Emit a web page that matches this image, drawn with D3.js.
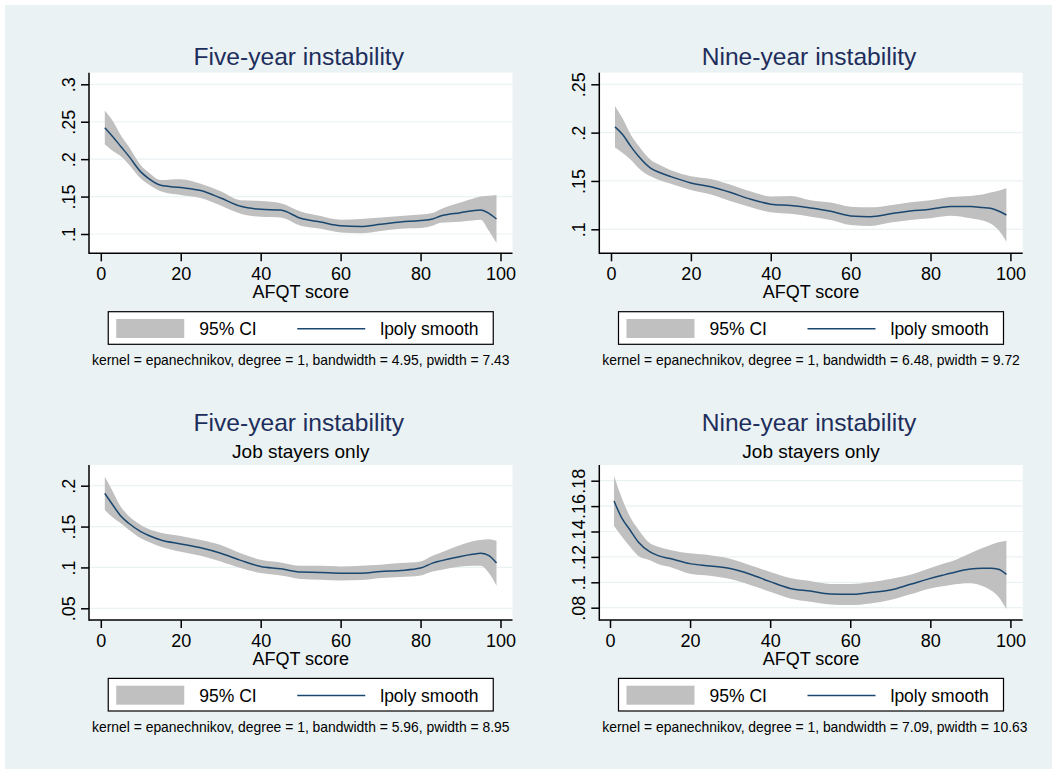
<!DOCTYPE html>
<html>
<head>
<meta charset="utf-8">
<script src="https://cdn.jsdelivr.net/npm/d3@7"></script>
<style>
  body { margin: 0; background: #ffffff; }
  svg text { font-family: "Liberation Sans", Arial, Helvetica, sans-serif; }
</style>
</head>
<body>
<div id="chart"></div>
<script>
var afqt = [1, 3, 5, 7, 10, 12, 15, 20, 25, 30, 35, 40, 45, 50, 55, 60, 65, 70, 75, 80, 83, 85, 90, 93, 95, 97, 99];

// Five-year instability
var fiveFit = [.242, .230, .217, .204, .183, .174, .165, .162, .158, .148, .137, .133, .132, .121, .116, .111, .110, .113, .116, .118, .120, .124, .1285, .131, .132, .128, .120];
var fiveLo  = [.220, .211, .204, .193, .174, .166, .157, .152, .148, .138, .127, .123, .122, .111, .107, .102, .101, .104, .107, .108, .111, .115, .1165, .118, .119, .105, .088];
var fiveHi  = [.265, .251, .232, .217, .192, .182, .172, .173, .167, .157, .145, .144, .141, .130, .124, .119, .120, .122, .124, .126, .128, .133, .142, .147, .150, .151, .152];

// Nine-year instability
var nineFit = [.206, .1976, .1855, .175, .163, .159, .1545, .148, .144, .138, .131, .126, .1245, .122, .1186, .1138, .113, .116, .119, .1207, .1228, .1235, .1235, .1225, .1217, .119, .1148];
var nineLo  = [.1845, .1786, .1717, .163, .1545, .151, .147, .1407, .136, .129, .1228, .1176, .116, .113, .1097, .1045, .1034, .107, .1097, .1114, .1132, .114, .1114, .109, .106, .0993, .0872];
var nineHi  = [.2276, .214, .1976, .186, .1717, .167, .161, .155, .152, .146, .139, .134, .1345, .130, .1276, .1234, .1228, .125, .128, .130, .1322, .1335, .1345, .136, .138, .140, .1424];

// Five-year instability, job stayers only
var stayFiveFit = [.1906, .1764, .163, .154, .1438, .139, .1336, .1287, .124, .1173, .1086, .1012, .0984, .0943, .0939, .093, .093, .095, .0963, .0992, .1053, .108, .1134, .116, .1173, .1147, .1053];
var stayFiveLo  = [.1703, .161, .154, .146, .1356, .131, .1254, .1193, .1143, .1073, .0992, .0931, .0902, .086, .085, .0841, .0845, .087, .0882, .0902, .095, .097, .1012, .102, .102, .0939, .0776];
var stayFiveHi  = [.211, .193, .1743, .163, .152, .147, .1425, .1385, .1336, .1275, .1173, .1094, .1061, .102, .102, .1012, .102, .1033, .1053, .1073, .1143, .118, .1275, .132, .1336, .1344, .1326];

// Nine-year instability, job stayers only
var stayNineFit = [.164, .1503, .1412, .132, .1239, .121, .1187, .1147, .1129, .1108, .1064, .1005, .0952, .0931, .0908, .0905, .092, .0939, .0984, .1031, .1055, .1071, .1105, .111, .111, .1102, .1063];
var stayNineLo  = [.1443, .1358, .1279, .121, .1174, .1145, .1121, .1068, .1052, .1026, .0979, .0926, .0873, .0847, .0826, .0821, .0834, .086, .0905, .0952, .0968, .0979, .0992, .097, .0939, .0887, .079];
var stayNineHi  = [.1837, .166, .1517, .142, .1307, .128, .1254, .1228, .1213, .1186, .1134, .1081, .1034, .101, .0987, .0987, .100, .1026, .106, .1113, .1145, .1161, .1228, .127, .1294, .1315, .1328];

// Tick labels
var xTicks = [0, 20, 40, 60, 80, 100];
var fiveTicks = [.1, .15, .2, .25, .3];
var nineTicks = [.1, .15, .2, .25];
var stayFiveTicks = [.05, .1, .15, .2];
var stayNineTicks = [.08, .1, .12, .14, .16, .18];

var titles = ['Five-year instability', 'Nine-year instability', 'Five-year instability', 'Nine-year instability'];
var subtitles = ['', '', 'Job stayers only', 'Job stayers only'];
var notes = [
    'kernel = epanechnikov, degree = 1, bandwidth = 4.95, pwidth = 7.43',
    'kernel = epanechnikov, degree = 1, bandwidth = 6.48, pwidth = 9.72',
    'kernel = epanechnikov, degree = 1, bandwidth = 5.96, pwidth = 8.95',
    'kernel = epanechnikov, degree = 1, bandwidth = 7.09, pwidth = 10.63'
];
var axisTitle = 'AFQT score';
var legendLabels = ['95% CI', 'lpoly smooth'];

var W = 1052, H = 769;
var bg = '#eaf2f3';
var navy = '#1a476f';
var band = '#c0c0c0';
var titleColor = '#1e2e5c';

// plot regions (pixel layout); y ticks are pinned at two pixel rows
var panels = [
    { fit: fiveFit, lo: fiveLo, hi: fiveHi, ticks: fiveTicks,
      L: 89, R: 512.5, T: 72.7, B: 253.3, x0: 100.8, x1: 500.5, yv: [.1, .3], yp: [234, 84.3] },
    { fit: nineFit, lo: nineLo, hi: nineHi, ticks: nineTicks,
      L: 599.3, R: 1022.7, T: 72.7, B: 253.3, x0: 611, x1: 1010.4, yv: [.1, .25], yp: [229.3, 84.3] },
    { fit: stayFiveFit, lo: stayFiveLo, hi: stayFiveHi, ticks: stayFiveTicks,
      L: 89, R: 512.5, T: 465, B: 620, x0: 100.8, x1: 500.5, yv: [.05, .2], yp: [608.3, 485.7] },
    { fit: stayNineFit, lo: stayNineLo, hi: stayNineHi, ticks: stayNineTicks,
      L: 599.3, R: 1022.7, T: 465, B: 620, x0: 610, x1: 1010.4, yv: [.08, .18], yp: [607.7, 480.7] }
];

var svg = d3.select('#chart').append('svg')
    .attr('width', W)
    .attr('height', H);

svg.append('rect')
    .attr('x', 5).attr('y', 5)
    .attr('width', W - 5).attr('height', H - 5)
    .attr('fill', bg);

function fmt(v) {
    return String(v).replace(/^0\./, '.');
}

panels.forEach(function (p, i) {
    var x = d3.scaleLinear().domain([0, 100]).range([p.x0, p.x1]);
    var y = d3.scaleLinear().domain(p.yv).range(p.yp);
    var cx = (p.L + p.R) / 2;
    var g = svg.append('g');

    // plot region
    g.append('rect')
        .attr('x', p.L).attr('y', p.T)
        .attr('width', p.R - p.L).attr('height', p.B - p.T)
        .attr('fill', '#ffffff');

    // grid lines
    g.selectAll('.grid')
        .data(p.ticks)
        .enter()
        .append('line')
        .attr('x1', p.L).attr('x2', p.R)
        .attr('y1', function (d) { return y(d); })
        .attr('y2', function (d) { return y(d); })
        .attr('stroke', bg)
        .attr('stroke-width', 1.2);

    var rows = afqt.map(function (a, k) {
        return { a: a, fit: p.fit[k], lo: p.lo[k], hi: p.hi[k] };
    });

    // confidence band
    g.append('path')
        .datum(rows)
        .attr('fill', band)
        .attr('d', d3.area()
            .curve(d3.curveMonotoneX)
            .x(function (d) { return x(d.a); })
            .y0(function (d) { return y(d.lo); })
            .y1(function (d) { return y(d.hi); }));

    // smooth
    g.append('path')
        .datum(rows)
        .attr('fill', 'none')
        .attr('stroke', navy)
        .attr('stroke-width', 1.5)
        .attr('d', d3.line()
            .curve(d3.curveMonotoneX)
            .x(function (d) { return x(d.a); })
            .y(function (d) { return y(d.fit); }));

    // x axis
    var xa = g.append('g')
        .attr('transform', 'translate(0, ' + p.B + ')')
        .call(d3.axisBottom(x).tickValues(xTicks).tickSize(8).tickSizeOuter(0).tickPadding(6));
    xa.select('.domain').remove();
    xa.selectAll('line').attr('stroke', '#000').attr('stroke-width', 1.5);
    xa.selectAll('text').style('font-size', '18px').attr('fill', '#000');

    // y axis with rotated labels
    var ya = g.append('g')
        .attr('transform', 'translate(' + p.L + ', 0)')
        .call(d3.axisLeft(y).tickValues(p.ticks).tickFormat(fmt).tickSize(8).tickSizeOuter(0));
    ya.select('.domain').remove();
    ya.selectAll('line').attr('stroke', '#000').attr('stroke-width', 1.5);
    ya.selectAll('text')
        .style('font-size', '18px')
        .attr('fill', '#000')
        .attr('text-anchor', 'middle')
        .attr('x', 0)
        .attr('y', -14)
        .attr('dy', 0)
        .attr('transform', 'rotate(-90)');

    // axis lines along the plot region
    g.append('line')
        .attr('x1', p.L).attr('x2', p.L).attr('y1', p.T).attr('y2', p.B + 0.75)
        .attr('stroke', '#000').attr('stroke-width', 1.5);
    g.append('line')
        .attr('x1', p.L).attr('x2', p.R).attr('y1', p.B).attr('y2', p.B)
        .attr('stroke', '#000').attr('stroke-width', 1.5);

    // axis title
    g.append('text')
        .attr('x', cx).attr('y', p.B + 45)
        .attr('text-anchor', 'middle')
        .style('font-size', '18px')
        .attr('fill', '#000')
        .text(axisTitle);

    // titles
    var titleY = subtitles[i] ? p.T - 34.3 : p.T - 7.7;
    g.append('text')
        .attr('x', cx - 2).attr('y', titleY)
        .attr('text-anchor', 'middle')
        .style('font-size', '24.6px')
        .attr('fill', titleColor)
        .text(titles[i]);
    if (subtitles[i]) {
        g.append('text')
            .attr('x', cx).attr('y', p.T - 6.7)
            .attr('text-anchor', 'middle')
            .style('font-size', '19px')
            .attr('fill', '#000')
            .text(subtitles[i]);
    }

    // legend
    var lw = 385, lh = 32.6;
    var lx = cx - lw / 2, ly = p.B + 58.4;
    var lg = g.append('g').attr('transform', 'translate(' + lx + ', ' + ly + ')');
    lg.append('rect')
        .attr('width', lw).attr('height', lh)
        .attr('fill', '#ffffff')
        .attr('stroke', '#000')
        .attr('stroke-width', 1.2);
    lg.append('rect')
        .attr('x', 8).attr('y', 7.3)
        .attr('width', 68).attr('height', 19)
        .attr('fill', band);
    lg.append('text')
        .attr('x', 91).attr('y', 23.3)
        .style('font-size', '17.5px')
        .attr('fill', '#000')
        .text(legendLabels[0]);
    lg.append('line')
        .attr('x1', 189).attr('x2', 257)
        .attr('y1', 17).attr('y2', 17)
        .attr('stroke', navy)
        .attr('stroke-width', 1.5);
    lg.append('text')
        .attr('x', 272).attr('y', 23.3)
        .style('font-size', '17.5px')
        .attr('fill', '#000')
        .text(legendLabels[1]);

    // note
    g.append('text')
        .attr('x', p.L + 3).attr('y', ly + lh + 21)
        .style('font-size', '13.9px')
        .attr('fill', '#000')
        .text(notes[i]);
});
</script>
</body>
</html>
